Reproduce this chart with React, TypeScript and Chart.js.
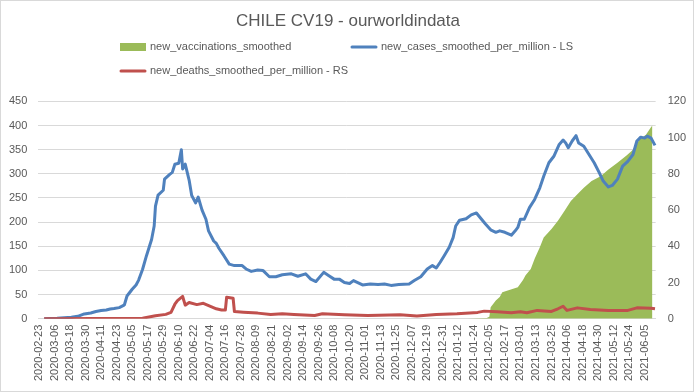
import React, { useEffect, useRef } from "react";
import { Chart, registerables } from "chart.js";

Chart.register(...registerables);

const TITLE = "CHILE CV19 - ourworldindata";
const START_DATE = "2020-02-23";
const DAY_COUNT = 477;
const LABEL_EVERY = 12;

const vaccLabel = "new_vaccinations_smoothed";
const casesLabel = "new_cases_smoothed_per_million - LS";
const deathsLabel = "new_deaths_smoothed_per_million - RS";

const leftTicks = [0, 50, 100, 150, 200, 250, 300, 350, 400, 450];
const rightTicks = [0, 20, 40, 60, 80, 100, 120];

// day offsets from START_DATE and values
const casesDays = [4, 14, 25, 30, 35, 40, 44, 48, 52, 55, 58, 62, 65, 66, 68, 72, 75, 77, 80, 83, 87, 89, 90, 92, 96, 97, 101, 103, 105, 108, 110, 111, 113, 116, 118, 121, 123, 126, 129, 131, 135, 137, 139, 143, 147, 151, 157, 160, 164, 169, 173, 178, 183, 188, 195, 200, 206, 210, 214, 220, 224, 228, 232, 236, 240, 243, 250, 256, 262, 267, 272, 278, 286, 290, 295, 300, 304, 307, 310, 313, 317, 320, 322, 325, 330, 334, 338, 341, 345, 349, 353, 356, 360, 365, 368, 370, 372, 375, 379, 383, 387, 390, 394, 398, 402, 405, 407, 409, 412, 415, 417, 421, 425, 429, 433, 436, 440, 443, 447, 451, 455, 459, 462, 465, 468, 470, 473, 476];
const casesValues = [0, 1, 3, 5, 10, 12, 15, 17, 18, 20, 21, 23, 27, 29, 47, 61, 70, 80, 102, 130, 164, 192, 233, 256, 266, 289, 299, 303, 320, 322, 350, 310, 320, 287, 255, 240, 252, 225, 206, 182, 161, 156, 146, 130, 113, 110, 110, 103, 98, 101, 100, 87, 87, 91, 93, 88, 93, 82, 77, 96, 89, 82, 82, 75, 73, 79, 70, 72, 71, 72, 69, 71, 72, 79, 87, 103, 110, 105, 117, 130, 148, 168, 192, 204, 207, 215, 219, 209, 196, 184, 179, 182, 179, 173, 182, 189, 206, 206, 230, 247, 271, 295, 323, 337, 361, 370, 364, 354, 368, 379, 364, 357, 340, 323, 302, 285, 273, 276, 289, 316, 326, 340, 368, 376, 374, 378, 374, 359];

const deathsDays = [4, 80, 90, 98, 102, 105, 107, 111, 113, 116, 122, 127, 132, 137, 141, 144, 145, 150, 151, 158, 169, 179, 188, 197, 213, 219, 236, 254, 279, 292, 307, 323, 339, 344, 354, 365, 372, 377, 385, 396, 401, 405, 408, 416, 426, 440, 455, 462, 473, 476];
const deathsValues = [0, 0.3, 1.6, 2.4, 3.5, 8, 10, 12.3, 7.5, 9, 7.8, 8.5, 7, 5.5, 4.8, 4.8, 11.9, 11.3, 4.0, 3.6, 3.1, 2.4, 2.7, 2.4, 1.8, 2.7, 2.2, 1.8, 2.2, 1.5, 2.4, 2.7, 3.5, 4.2, 3.8, 3.3, 3.8, 3.3, 4.6, 4.0, 5.5, 6.9, 4.6, 6.0, 5.1, 4.6, 4.6, 6.0, 5.8, 5.5];

const vaccDays = [331, 346, 348, 349, 353, 356, 358, 364, 370, 374, 376, 380, 383, 387, 390, 396, 401, 406, 411, 416, 421, 427, 434, 440, 447, 454, 459, 464, 469, 473, 474];
const vaccValues = [0, 1.5, 4, 24, 38, 45, 55, 60, 65, 80, 90, 103, 124, 148, 168, 186, 203, 223, 244, 258, 271, 285, 295, 309, 323, 338, 350, 371, 381, 397, 400];

const FONT = '"Liberation Sans", Arial, sans-serif';
const TEXT_COLOR = "#595959";
const GRID_COLOR = "#d9d9d9";

function makeLabels(): string[] {
  const out: string[] = [];
  const base = new Date(START_DATE + "T00:00:00Z").getTime();
  for (let i = 0; i < DAY_COUNT; i++) {
    out.push(new Date(base + i * 86400000).toISOString().slice(0, 10));
  }
  return out;
}

function toPoints(labels: string[], days: number[], values: number[]) {
  return days.map((d, i) => ({ x: labels[d], y: values[i] }));
}

const gridLegend = {
  id: "gridLegend",
  afterDraw(chart: any) {
    const ctx = chart.ctx;
    const left = 119;
    const colWidth = 231;
    const top = 46;
    const rowHeight = 24;
    ctx.save();
    ctx.font = "11px " + FONT;
    ctx.textBaseline = "middle";
    ctx.textAlign = "left";
    chart.data.datasets.forEach((ds: any, i: number) => {
      const x = left + (i % 2) * colWidth;
      const y = top + Math.floor(i / 2) * rowHeight;
      if (ds.fill) {
        ctx.fillStyle = ds.backgroundColor;
        ctx.fillRect(x, y - 4, 26, 8);
      } else {
        ctx.strokeStyle = ds.borderColor;
        ctx.lineWidth = 3;
        ctx.lineCap = "round";
        ctx.beginPath();
        ctx.moveTo(x + 1, y);
        ctx.lineTo(x + 25, y);
        ctx.stroke();
      }
      ctx.fillStyle = TEXT_COLOR;
      ctx.fillText(ds.label, x + 30, y);
    });
    ctx.restore();
  },
};

export default function App() {
  const ref = useRef<HTMLCanvasElement | null>(null);

  useEffect(() => {
    document.body.style.margin = "0";
    const labels = makeLabels();
    const chart = new Chart(ref.current as HTMLCanvasElement, {
      type: "line",
      data: {
        labels,
        datasets: [
          {
            label: vaccLabel,
            data: toPoints(labels, vaccDays, vaccValues),
            yAxisID: "y",
            fill: "origin",
            backgroundColor: "#9bbb59",
            borderColor: "#9bbb59",
            borderWidth: 0,
            pointRadius: 0,
            tension: 0,
            order: 3,
          },
          {
            label: casesLabel,
            data: toPoints(labels, casesDays, casesValues),
            yAxisID: "y",
            fill: false,
            borderColor: "#4f81bd",
            backgroundColor: "#4f81bd",
            borderWidth: 3,
            pointRadius: 0,
            tension: 0,
            borderJoinStyle: "round",
            order: 2,
          },
          {
            label: deathsLabel,
            data: toPoints(labels, deathsDays, deathsValues),
            yAxisID: "y1",
            fill: false,
            borderColor: "#c0504d",
            backgroundColor: "#c0504d",
            borderWidth: 3,
            pointRadius: 0,
            tension: 0,
            borderJoinStyle: "round",
            order: 1,
          },
        ],
      },
      options: {
        animation: false,
        responsive: false,
        events: [],
        layout: { padding: { left: -3, right: -5, top: 0, bottom: 4 } },
        plugins: {
          legend: { display: false },
          tooltip: { enabled: false },
          title: {
            display: true,
            text: TITLE,
            color: TEXT_COLOR,
            font: { family: FONT, size: 17, weight: "normal" },
            padding: { top: 10, bottom: 70 },
          },
        },
        scales: {
          x: {
            type: "category",
            offset: true,
            grid: { display: false, drawTicks: false },
            border: { display: true, color: GRID_COLOR },
            ticks: {
              autoSkip: false,
              maxRotation: 90,
              minRotation: 90,
              padding: 6,
              color: TEXT_COLOR,
              font: { family: FONT, size: 11 },
              callback: function (this: any, value: any, index: number) {
                return index % LABEL_EVERY === 0 ? this.getLabelForValue(value) : undefined;
              },
            },
          },
          y: {
            position: "left",
            min: leftTicks[0],
            max: leftTicks[leftTicks.length - 1],
            afterBuildTicks: (scale: any) => {
              scale.ticks = leftTicks.map((v) => ({ value: v }));
            },
            grid: { color: GRID_COLOR, drawTicks: false },
            border: { display: false },
            ticks: {
              padding: 11,
              color: TEXT_COLOR,
              font: { family: FONT, size: 11 },
            },
          },
          y1: {
            position: "right",
            min: rightTicks[0],
            max: rightTicks[rightTicks.length - 1],
            afterBuildTicks: (scale: any) => {
              scale.ticks = rightTicks.map((v) => ({ value: v }));
            },
            grid: { display: false, drawTicks: false },
            border: { display: false },
            ticks: {
              padding: 12,
              color: TEXT_COLOR,
              font: { family: FONT, size: 11 },
            },
          },
        },
      },
      plugins: [gridLegend],
    } as any);
    return () => chart.destroy();
  }, []);

  return (
    <div
      style={{
        position: "absolute",
        left: 0,
        top: 0,
        width: 694,
        height: 392,
        boxSizing: "border-box",
        border: "1px solid #d9d9d9",
        background: "#ffffff",
      }}
    >
      <canvas ref={ref} width={692} height={390} style={{ display: "block" }} />
    </div>
  );
}
